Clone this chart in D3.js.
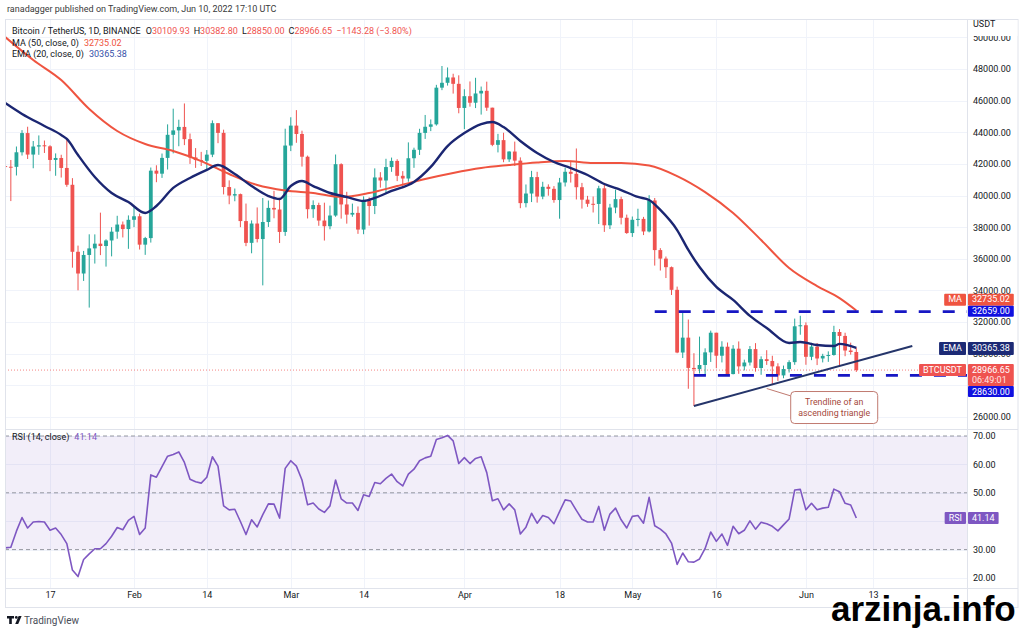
<!DOCTYPE html>
<html>
<head>
<meta charset="utf-8">
<script src="https://cdn.jsdelivr.net/npm/d3@7"></script>
<style>
  body { margin: 0; background: #fff; }
  svg { display: block; font-family: Roboto, "DejaVu Sans", sans-serif; }
</style>
</head>
<body>
<svg id="chart" width="1024" height="630"></svg>
<script>
// ---- DATA (BTCUSDT 1D, Binance, Jan 9 - Jun 10 2022) ----
const firstDay = "2022-01-09";

const opens = [
  41864, 41822, 41815, 42735, 43949, 42591, 43099, 43177, 43113, 42250, 42375, 41744, 40680, 36445, 35071, 36244, 36660, 36958, 36809, 37160, 37716, 38166, 37881,
  38466, 38690, 36896, 37311, 41574, 41382, 42380, 43840, 44118, 44338, 43565, 42407, 42244, 42197, 42586, 44575, 43961, 40538, 40000, 40089, 38386, 37009, 38230, 37250, 38327, 39219, 39116, 37699,
  43160, 44421, 43892, 42454, 39137, 39400, 38419, 38062, 38737, 41982, 39437, 38794, 38904, 37849, 39666, 39338, 41143, 40951, 41801, 42190, 41247, 41077, 42358, 42892, 43960, 44348, 44500, 46820, 47128, 47465, 47062,
  45538, 46281, 45868, 46453, 46622, 45555, 43206, 43503, 42287, 42782, 42207, 39521, 40127, 41166, 39935, 40553, 40424, 39716, 40826, 41502, 41374, 40527, 39740, 39478, 39469, 40458, 38120, 39241, 39773, 38596,
  37630, 38468, 38525, 37729, 39690, 36552, 36013, 35472, 34039, 30076, 31017, 29103, 29029, 29287, 30086, 31328, 29874, 30444, 28715, 30319, 29201, 29445, 30293, 29099, 29655, 29542, 29201, 28629, 29031, 29468, 31734,
  31801, 29805, 30452, 29700, 29864, 29920, 31373, 31125, 30204, 30109.93
];
const highs = [
  42300, 42248, 43100, 44135, 44350, 43448, 43800, 43478, 43180, 42664, 42579, 43505, 41100, 36835, 36499, 37550, 37545, 38919, 37234, 38000, 38720, 38359, 38744,
  39265, 38855, 37387, 41772, 41913, 42656, 44500, 45492, 44795, 45821, 43920, 43000, 42760, 42876, 44750, 44580, 44164, 40959, 40444, 40125, 39494, 38429, 39249, 39843, 39683, 40300, 39855, 44225,
  44949, 45400, 44101, 42527, 39695, 39546, 39549, 39362, 42594, 42039, 40236, 39490, 39310, 39947, 39887, 41718, 41478, 42325, 42400, 42296, 41544, 43361, 43025, 44220, 45094, 44810, 46999, 48189, 48096, 47700, 47600,
  46720, 47213, 47444, 46890, 47200, 45555, 43900, 43970, 42800, 43410, 42414, 40700, 41561, 41500, 40870, 40709, 40596, 41116, 41760, 42199, 42976, 40800, 39980, 39940, 40617, 40797, 39474, 40372, 39925, 38795,
  38675, 39167, 38651, 40023, 39845, 36675, 36146, 35514, 34243, 32658, 32162, 30032, 31083, 30343, 31460, 31328, 30788, 30709, 30545, 30777, 29625, 30487, 30670, 29834, 30223, 29872, 29397, 29250, 29587, 32222, 32399,
  31982, 30690, 30675, 29995, 30150, 31765, 31556, 31328, 30700, 30382.80
];
const lows = [
  41250, 39650, 41268, 42528, 42311, 41725, 42575, 42691, 41540, 41250, 41138, 40553, 35440, 34008, 34601, 32917, 35701, 36234, 35507, 36155, 37268, 37351, 36632,
  38000, 36586, 36250, 37026, 40843, 41116, 41645, 42666, 43117, 43187, 42000, 41748, 41867, 41571, 42428, 43310, 40073, 39450, 39639, 38000, 36800, 36350, 37036, 34322, 38015, 38563, 37000, 37450,
  42809, 43334, 41832, 38550, 38590, 38088, 37155, 37867, 38656, 38540, 38223, 38660, 37578, 37555, 38098, 38828, 40500, 40135, 41499, 40911, 40467, 40875, 41751, 42566, 43579, 44072, 44422, 46663, 46950, 46445, 45200,
  44200, 45620, 45530, 45118, 45353, 43121, 42727, 42107, 42125, 41868, 39200, 39254, 39588, 39551, 39766, 39991, 39546, 38536, 40571, 40820, 39751, 39177, 39285, 38929, 38200, 37702, 37881, 38881, 38175, 37578,
  37386, 38052, 37500, 37670, 35571, 35258, 34785, 33714, 30033, 29730, 27785, 26700, 28751, 28630, 29480, 29087, 29450, 28654, 28693, 28730, 28947, 29255, 28866, 28669, 29294, 28019, 28282, 28450, 28812, 29299, 31200,
  29301, 29594, 29282, 29451, 29485, 29876, 29219, 29843, 29944, 28850.00
];
const closes = [
  41822, 41815, 42735, 43949, 42591, 43099, 43177, 43113, 42250, 42375, 41744, 40680, 36445, 35071, 36244, 36660, 36958, 36809, 37160, 37716, 38166, 37881, 38466,
  38690, 36896, 37311, 41574, 41382, 42380, 43840, 44118, 44338, 43565, 42407, 42244, 42197, 42586, 44575, 43961, 40538, 40000, 40089, 38386, 37009, 38230, 37250, 38327, 39219, 39116, 37699, 43160,
  44421, 43892, 42454, 39137, 39400, 38419, 38062, 38737, 41982, 39437, 38794, 38904, 37849, 39666, 39338, 41143, 40951, 41801, 42190, 41247, 41077, 42358, 42892, 43960, 44348, 44500, 46820, 47128, 47465, 47062, 45538,
  46281, 45868, 46453, 46622, 45555, 43206, 43503, 42287, 42782, 42207, 39521, 40127, 41166, 39935, 40553, 40424, 39716, 40826, 41502, 41374, 40527, 39740, 39478, 39469, 40458, 38120, 39241, 39773, 38596, 37630,
  38468, 38525, 37729, 39690, 36552, 36013, 35472, 34039, 30076, 31017, 29103, 29029, 29287, 30086, 31328, 29874, 30444, 28715, 30319, 29201, 29445, 30293, 29099, 29655, 29542, 29201, 28629, 29031, 29468, 31734, 31801,
  29805, 30452, 29700, 29864, 29920, 31373, 31125, 30204, 30109, 28966.65
];

// RSI (14, close), one value per candle
const rsiValues = [
  30.6, 30.8, 36.5, 41.3, 37.6, 39.7, 39.9, 39.7, 36.8, 37.6, 35.3, 32.1, 22.8, 20.5, 26.5, 28.5, 30.3, 30.3, 32.1, 34.7, 37.8, 37.0, 40.3,
  41.7, 35.3, 37.6, 56.3, 55.5, 59.2, 62.9, 63.5, 64.4, 60.7, 54.8, 53.9, 53.4, 55.5, 62.7, 59.4, 45.4, 44.0, 44.2, 39.9, 35.3, 40.5, 38.0, 42.3, 46.1, 46.0, 41.1, 58.6,
  61.3, 59.4, 54.5, 45.8, 46.4, 44.3, 43.1, 45.4, 54.5, 47.9, 46.4, 46.4, 43.8, 49.3, 48.7, 53.6, 53.2, 55.1, 56.6, 53.9, 52.4, 56.6, 58.3, 61.3, 62.3, 62.9, 68.8, 69.4, 70.2, 68.3, 60.3,
  62.4, 60.3, 62.1, 62.7, 57.1, 47.2, 47.9, 44.0, 46.1, 44.0, 35.5, 37.9, 42.8, 39.3, 42.0, 41.3, 39.1, 43.4, 47.5, 47.1, 43.8, 40.7, 39.7, 39.7, 45.2, 36.8, 42.5, 44.6, 40.5, 37.6,
  41.7, 42.0, 39.3, 48.4, 38.4, 37.2, 35.5, 32.3, 24.8, 28.8, 25.7, 25.6, 26.7, 30.4, 36.2, 32.9, 35.5, 31.5, 38.2, 35.6, 36.8, 40.1, 37.2, 39.6, 39.1, 38.2, 36.6, 38.7, 40.8, 51.0, 51.2,
  44.0, 46.3, 44.0, 44.6, 44.9, 51.3, 50.4, 46.3, 45.7, 41.14
];

// MA (50)
const maDates = ["2022-01-09", "2022-01-14", "2022-01-19", "2022-01-24", "2022-01-29", "2022-02-03", "2022-02-08", "2022-02-13",
  "2022-02-18", "2022-02-23", "2022-02-28", "2022-03-05", "2022-03-10", "2022-03-15", "2022-03-20", "2022-03-25", "2022-03-30",
  "2022-04-04", "2022-04-09", "2022-04-14", "2022-04-19", "2022-04-24", "2022-04-29", "2022-05-04", "2022-05-09", "2022-05-14",
  "2022-05-19", "2022-05-24", "2022-05-29", "2022-06-03", "2022-06-07", "2022-06-10"];
const maValues = [50020, 48570, 47300, 45470, 44080, 43260, 42820, 42180,
  41360, 40670, 40320, 40160, 39910, 40160, 40600, 41050, 41430,
  41740, 41930, 42090, 42180, 42060, 42060, 41900, 41230, 40220,
  38900, 37190, 35420, 34280, 33520, 32735.02];

// EMA (20)
const emaDates = ["2022-01-09", "2022-01-12", "2022-01-16", "2022-01-19", "2022-01-20", "2022-01-22", "2022-01-25", "2022-01-28",
  "2022-01-31", "2022-02-03", "2022-02-05", "2022-02-08", "2022-02-11", "2022-02-14", "2022-02-16", "2022-02-19", "2022-02-22",
  "2022-02-25", "2022-02-27", "2022-03-01", "2022-03-03", "2022-03-05", "2022-03-08", "2022-03-11", "2022-03-14", "2022-03-16",
  "2022-03-19", "2022-03-23", "2022-03-26", "2022-03-29", "2022-04-01", "2022-04-04", "2022-04-06", "2022-04-08", "2022-04-11",
  "2022-04-14", "2022-04-17", "2022-04-20", "2022-04-23", "2022-04-26", "2022-04-29", "2022-05-02", "2022-05-04", "2022-05-06",
  "2022-05-09", "2022-05-11", "2022-05-13", "2022-05-16", "2022-05-19", "2022-05-22", "2022-05-25", "2022-05-29", "2022-05-31",
  "2022-06-03", "2022-06-06", "2022-06-07", "2022-06-10"];
const emaValues = [45850, 45160, 44400, 43830, 43580, 42560, 41170, 40160,
  39590, 38900, 39340, 40480, 41110, 41620, 41930, 41360, 40600,
  39970, 39780, 40600, 40920, 40600, 40160, 39910, 39660, 39850,
  40290, 40860, 41810, 43130, 43950, 44520, 44650, 44330, 43450,
  42690, 42120, 41740, 41300, 40730, 40350, 39910, 39720, 39090,
  37820, 36560, 35480, 34220, 33400, 32390, 31630, 30680, 30740,
  30550, 30490, 30620, 30365.38];

// horizontal levels (ascending triangle) and trendline
const levelValues = [32659.00, 28630.00];
const levelStarts = ["2022-05-05", "2022-05-12"];
const trendDates = ["2022-05-12", "2022-06-20"];
const trendPrices = [26700, 30490];
const calloutLines = ["Trendline of an", "ascending triangle"];
const calloutTip = { date: "2022-05-25", price: 27800 };

// axes
const priceTicks = d3.range(26000, 50001, 2000);
const rsiTicks = [20, 30, 40, 50, 60, 70];
const rsiBands = [70, 50, 30];
const tickDates = ["2022-01-17", "2022-02-01", "2022-02-14", "2022-03-01", "2022-03-14", "2022-04-01",
  "2022-04-18", "2022-05-01", "2022-05-16", "2022-06-01", "2022-06-13"];
const tickLabels = ["17", "Feb", "14", "Mar", "14", "Apr", "18", "May", "16", "Jun", "13"];

// ---- LAYOUT ----
const plotLeft = 5, plotRight = 967, frameRight = 1018;
const pricePane = { top: 20, bottom: 429 };
const rsiPane = { top: 430, bottom: 588 };
const upColor = "#26a69a", downColor = "#ef5350";
const maColor = "#ef5440", emaColor = "#1b2672", levelColor = "#1717c4", rsiColor = "#7e57c2";

const parse = d3.utcParse("%Y-%m-%d");
const fmt2 = d3.format(".2f");
const start = parse(firstDay);
const candles = closes.map((c, i) => ({
  date: d3.utcDay.offset(start, i), o: opens[i], h: highs[i], l: lows[i], c: c, rsi: rsiValues[i]
}));
const maData = maDates.map((d, i) => ({ date: parse(d), v: maValues[i] }));
const emaData = emaDates.map((d, i) => ({ date: parse(d), v: emaValues[i] }));

const x = d3.scaleUtc()
  .domain([new Date(Date.UTC(2022, 0, 8, 23)), new Date(Date.UTC(2022, 5, 29, 18, 30))])
  .range([plotLeft, plotRight]);
const yPrice = d3.scaleLinear().domain([26000, 48000]).range([417, 69]);
const yRsi = d3.scaleLinear().domain([20, 70]).range([578, 436]);

const svg = d3.select("#chart");
const defs = svg.append("defs");
defs.append("clipPath").attr("id", "priceClip").append("rect")
  .attr("x", plotLeft).attr("y", pricePane.top)
  .attr("width", plotRight - plotLeft).attr("height", pricePane.bottom - pricePane.top);
defs.append("clipPath").attr("id", "rsiClip").append("rect")
  .attr("x", plotLeft).attr("y", rsiPane.top)
  .attr("width", plotRight - plotLeft).attr("height", rsiPane.bottom - rsiPane.top);

// ---- GRID ----
const grid = svg.append("g").attr("stroke", "#f0f3fa").attr("stroke-width", 1);
grid.selectAll(".hp").data(priceTicks).enter().append("line")
  .attr("x1", plotLeft).attr("x2", plotRight)
  .attr("y1", d => Math.round(yPrice(d)) + 0.5).attr("y2", d => Math.round(yPrice(d)) + 0.5);
grid.selectAll(".hr").data(rsiTicks).enter().append("line")
  .attr("x1", plotLeft).attr("x2", plotRight)
  .attr("y1", d => Math.round(yRsi(d)) + 0.5).attr("y2", d => Math.round(yRsi(d)) + 0.5);
grid.selectAll(".v").data(tickDates).enter().append("line")
  .attr("x1", d => Math.round(x(parse(d))) + 0.5).attr("x2", d => Math.round(x(parse(d))) + 0.5)
  .attr("y1", pricePane.top).attr("y2", rsiPane.bottom);

// ---- RSI PANE ----
const rsiG = svg.append("g").attr("clip-path", "url(#rsiClip)");
rsiG.append("rect")
  .attr("x", plotLeft).attr("width", plotRight - plotLeft)
  .attr("y", yRsi(70)).attr("height", yRsi(30) - yRsi(70))
  .attr("fill", rsiColor).attr("fill-opacity", 0.1);
rsiG.selectAll(".band").data(rsiBands).enter().append("line")
  .attr("x1", plotLeft).attr("x2", plotRight)
  .attr("y1", d => yRsi(d)).attr("y2", d => yRsi(d))
  .attr("stroke", "#9598a1").attr("stroke-dasharray", "4,3").attr("stroke-width", 1);
rsiG.append("path")
  .datum(candles)
  .attr("fill", "none").attr("stroke", rsiColor).attr("stroke-width", 1.6)
  .attr("stroke-linejoin", "round")
  .attr("d", d3.line().x(d => x(d.date)).y(d => yRsi(d.rsi)));

// ---- PRICE PANE ----
const priceG = svg.append("g").attr("clip-path", "url(#priceClip)");
const lastClose = closes[closes.length - 1];

priceG.append("line")
  .attr("x1", plotLeft).attr("x2", plotRight)
  .attr("y1", yPrice(lastClose)).attr("y2", yPrice(lastClose))
  .attr("stroke", downColor).attr("stroke-opacity", 0.7)
  .attr("stroke-dasharray", "1,2").attr("stroke-width", 1);

const candleG = priceG.append("g");
const bodyW = 3.8;
const candle = candleG.selectAll("g").data(candles).enter().append("g")
  .attr("fill", d => d.c >= d.o ? upColor : downColor)
  .attr("stroke", d => d.c >= d.o ? upColor : downColor);
candle.append("line")
  .attr("x1", d => x(d.date)).attr("x2", d => x(d.date))
  .attr("y1", d => yPrice(d.h)).attr("y2", d => yPrice(d.l))
  .attr("stroke-width", 1);
candle.append("rect")
  .attr("stroke", "none")
  .attr("x", d => x(d.date) - bodyW / 2).attr("width", bodyW)
  .attr("y", d => yPrice(Math.max(d.o, d.c)))
  .attr("height", d => Math.max(1, Math.abs(yPrice(d.o) - yPrice(d.c))));

const smooth = d3.line().x(d => x(d.date)).y(d => yPrice(d.v)).curve(d3.curveMonotoneX);
priceG.append("path").datum(maData)
  .attr("fill", "none").attr("stroke", maColor).attr("stroke-width", 2).attr("d", smooth);
priceG.append("path").datum(emaData)
  .attr("fill", "none").attr("stroke", emaColor).attr("stroke-width", 2.4).attr("d", smooth);

// levels
priceG.selectAll(".level").data(levelValues).enter().append("line")
  .attr("x1", (d, i) => x(parse(levelStarts[i]))).attr("x2", plotRight)
  .attr("y1", d => yPrice(d)).attr("y2", d => yPrice(d))
  .attr("stroke", levelColor).attr("stroke-width", 2.6).attr("stroke-dasharray", "12,12");

// trendline
priceG.append("line")
  .attr("x1", x(parse(trendDates[0]))).attr("y1", yPrice(trendPrices[0]))
  .attr("x2", x(parse(trendDates[1]))).attr("y2", yPrice(trendPrices[1]))
  .attr("stroke", "#25356a").attr("stroke-width", 2);

// callout
const tipX = x(parse(calloutTip.date)), tipY = yPrice(calloutTip.price);
const callout = svg.append("g");
callout.append("line")
  .attr("x1", tipX).attr("y1", tipY).attr("x2", tipX + 26).attr("y2", tipY + 8)
  .attr("stroke", "#c07a70").attr("stroke-width", 1);
callout.append("rect")
  .attr("x", tipX + 24).attr("y", tipY + 3).attr("width", 87).attr("height", 32).attr("rx", 4)
  .attr("fill", "#fff").attr("stroke", "#c07a70").attr("stroke-width", 1);
callout.selectAll("text").data(calloutLines).enter().append("text")
  .attr("x", tipX + 67.5).attr("y", (d, i) => tipY + 16 + i * 11)
  .attr("text-anchor", "middle").attr("font-size", 8.8).attr("fill", "#a5483b")
  .text(d => d);

// ---- FRAME ----
const frame = svg.append("g").attr("stroke", "#e0e3eb").attr("stroke-width", 1).attr("fill", "none");
frame.append("rect").attr("x", 5.5).attr("y", 19.5).attr("width", frameRight - 5.5).attr("height", 588);
frame.append("line").attr("x1", plotRight + 0.5).attr("x2", plotRight + 0.5).attr("y1", 19.5).attr("y2", 607.5);
frame.append("line").attr("x1", 5.5).attr("x2", frameRight).attr("y1", pricePane.bottom + 0.5).attr("y2", pricePane.bottom + 0.5);
frame.append("line").attr("x1", 5.5).attr("x2", frameRight).attr("y1", rsiPane.bottom + 0.5).attr("y2", rsiPane.bottom + 0.5);

// ---- PRICE TAGS (positions resolved first so hidden axis labels can be dropped) ----
const tags = [
  { value: maValues[maValues.length - 1], label: "MA", fill: maColor, lines: [fmt2(maValues[maValues.length - 1])], h: 12, fixed: false },
  { value: levelValues[0], label: null, fill: "#1010e0", lines: [fmt2(levelValues[0])], h: 11, fixed: true },
  { value: emaValues[emaValues.length - 1], label: "EMA", fill: "#1c2a75", lines: [fmt2(emaValues[emaValues.length - 1])], h: 13, fixed: true },
  { value: lastClose, label: "BTCUSDT", fill: downColor, lines: [fmt2(lastClose), "06:49:01"], h: 22, fixed: true },
  { value: levelValues[1], label: null, fill: "#1010e0", lines: [fmt2(levelValues[1])], h: 11, fixed: false }
];
tags.forEach(t => { t.top = yPrice(t.value) - 6; });
tags.sort((a, b) => a.top - b.top);
for (let i = 1; i < tags.length; i++) {
  const prev = tags[i - 1], cur = tags[i];
  if (cur.top < prev.top + prev.h) {
    if (cur.fixed && !prev.fixed) prev.top = cur.top - prev.h;
    else cur.top = prev.top + prev.h;
  }
}
const covered = y => d3.range(y - 3, y + 3.1, 0.5).every(v => tags.some(t => v >= t.top && v <= t.top + t.h));
const visiblePriceTicks = priceTicks.filter(p => !covered(yPrice(p)));

// ---- AXES ----
const priceAxis = svg.append("g")
  .attr("transform", `translate(${plotRight},0)`)
  .call(d3.axisRight(yPrice).tickValues(visiblePriceTicks).tickFormat(fmt2).tickSize(0).tickPadding(6));
const rsiAxis = svg.append("g")
  .attr("transform", `translate(${plotRight},0)`)
  .call(d3.axisRight(yRsi).tickValues(rsiTicks.filter(v => v !== 40)).tickFormat(fmt2).tickSize(0).tickPadding(6));
const timeAxis = svg.append("g")
  .attr("transform", `translate(0,${rsiPane.bottom})`)
  .call(d3.axisBottom(x).tickValues(tickDates.map(parse)).tickFormat((d, i) => tickLabels[i]).tickSize(0).tickPadding(4));
[priceAxis, rsiAxis, timeAxis].forEach(a => {
  a.select(".domain").remove();
  a.selectAll("text").attr("font-size", 9).attr("fill", "#131722").attr("font-family", "Roboto, sans-serif");
});

svg.append("rect").attr("x", plotRight + 1).attr("y", 20).attr("width", frameRight - plotRight - 1.5).attr("height", 16).attr("fill", "#fff");
svg.append("text").attr("x", plotRight + 6).attr("y", 27).attr("font-size", 9).attr("fill", "#131722").text("USDT");

function drawTag(g, left, top, h, fill, lines, align) {
  const tg = g.append("g");
  const rect = tg.append("rect").attr("y", top).attr("height", h).attr("fill", fill).attr("rx", 1);
  let w = 0;
  lines.forEach((ln, i) => {
    const t = tg.append("text")
      .attr("y", top + 8.6 + i * 10.5)
      .attr("font-size", 9).attr("fill", i === 0 ? "#fff" : "#ffe3e3").text(ln);
    w = Math.max(w, t.node().getComputedTextLength());
  });
  const width = w + 8;
  const x0 = align === "right" ? left - width : left;
  rect.attr("x", x0).attr("width", width);
  tg.selectAll("text").attr("x", x0 + 4);
}

const tagG = svg.append("g");
tags.forEach(t => {
  drawTag(tagG, plotRight + 1, t.top, t.h, t.fill, t.lines, "left");
  if (t.label) drawTag(tagG, plotRight - 1, t.top, t.label === "EMA" ? 13 : 12, t.fill, [t.label], "right");
});
const rsiLast = rsiValues[rsiValues.length - 1];
drawTag(tagG, plotRight + 1, yRsi(rsiLast) - 6, 12, rsiColor, [fmt2(rsiLast)], "left");
drawTag(tagG, plotRight - 1, yRsi(rsiLast) - 6, 12, rsiColor, ["RSI"], "right");

// ---- LEGENDS ----
svg.append("text").attr("x", 7).attr("y", 12).attr("font-size", 9).attr("fill", "#3a3a3a")
  .text("ranadagger published on TradingView.com, Jun 10, 2022 17:10 UTC");

const last = candles[candles.length - 1];
const change = lastClose - opens[opens.length - 1];
const minus = s => s.replace("-", "\u2212");
const l1 = svg.append("text").attr("x", 12).attr("y", 34).attr("font-size", 9).attr("fill", "#131722");
l1.append("tspan").text("Bitcoin / TetherUS, 1D, BINANCE");
[["O", last.o], ["H", last.h], ["L", last.l], ["C", last.c]].forEach((p, i) => {
  l1.append("tspan").attr("dx", i === 0 ? 5 : 4).text(p[0]);
  l1.append("tspan").attr("fill", downColor).text(fmt2(p[1]));
});
l1.append("tspan").attr("dx", 4).attr("fill", downColor)
  .text(`${minus(fmt2(change))} (${minus(fmt2(change / opens[opens.length - 1] * 100))}%)`);

const l2 = svg.append("text").attr("x", 12).attr("y", 46).attr("font-size", 9).attr("fill", "#131722");
l2.append("tspan").text("MA (50, close, 0)");
l2.append("tspan").attr("dx", 5).attr("fill", maColor).text(fmt2(maValues[maValues.length - 1]));
const l3 = svg.append("text").attr("x", 12).attr("y", 57).attr("font-size", 9).attr("fill", "#131722");
l3.append("tspan").text("EMA (20, close, 0)");
l3.append("tspan").attr("dx", 5).attr("fill", "#3550a8").text(fmt2(emaValues[emaValues.length - 1]));

const l4 = svg.append("text").attr("x", 12).attr("y", 440).attr("font-size", 9).attr("fill", "#131722");
l4.append("tspan").text("RSI (14, close)");
l4.append("tspan").attr("dx", 5).attr("fill", rsiColor).text(fmt2(rsiLast));

// ---- FOOTER ----
const logo = svg.append("g").attr("fill", "#131722");
logo.append("path").attr("d", "M7,616 h7 v2.6 h-2.2 v5.4 h-2.6 v-5.4 h-2.2 z");
logo.append("circle").attr("cx", 16.3).attr("cy", 617.4).attr("r", 1.4);
logo.append("path").attr("d", "M18.6,616 h3 l-3.4,8 h-3 z");
svg.append("text").attr("x", 24).attr("y", 624).attr("font-size", 10).attr("fill", "#4a4e59").text("TradingView");

svg.append("text").attr("x", 831).attr("y", 621)
  .attr("font-family", "'Liberation Sans', Arial, sans-serif").attr("font-weight", "bold")
  .attr("font-size", 35).attr("fill", "#000").text("arzinja.info");
</script>
</body>
</html>
